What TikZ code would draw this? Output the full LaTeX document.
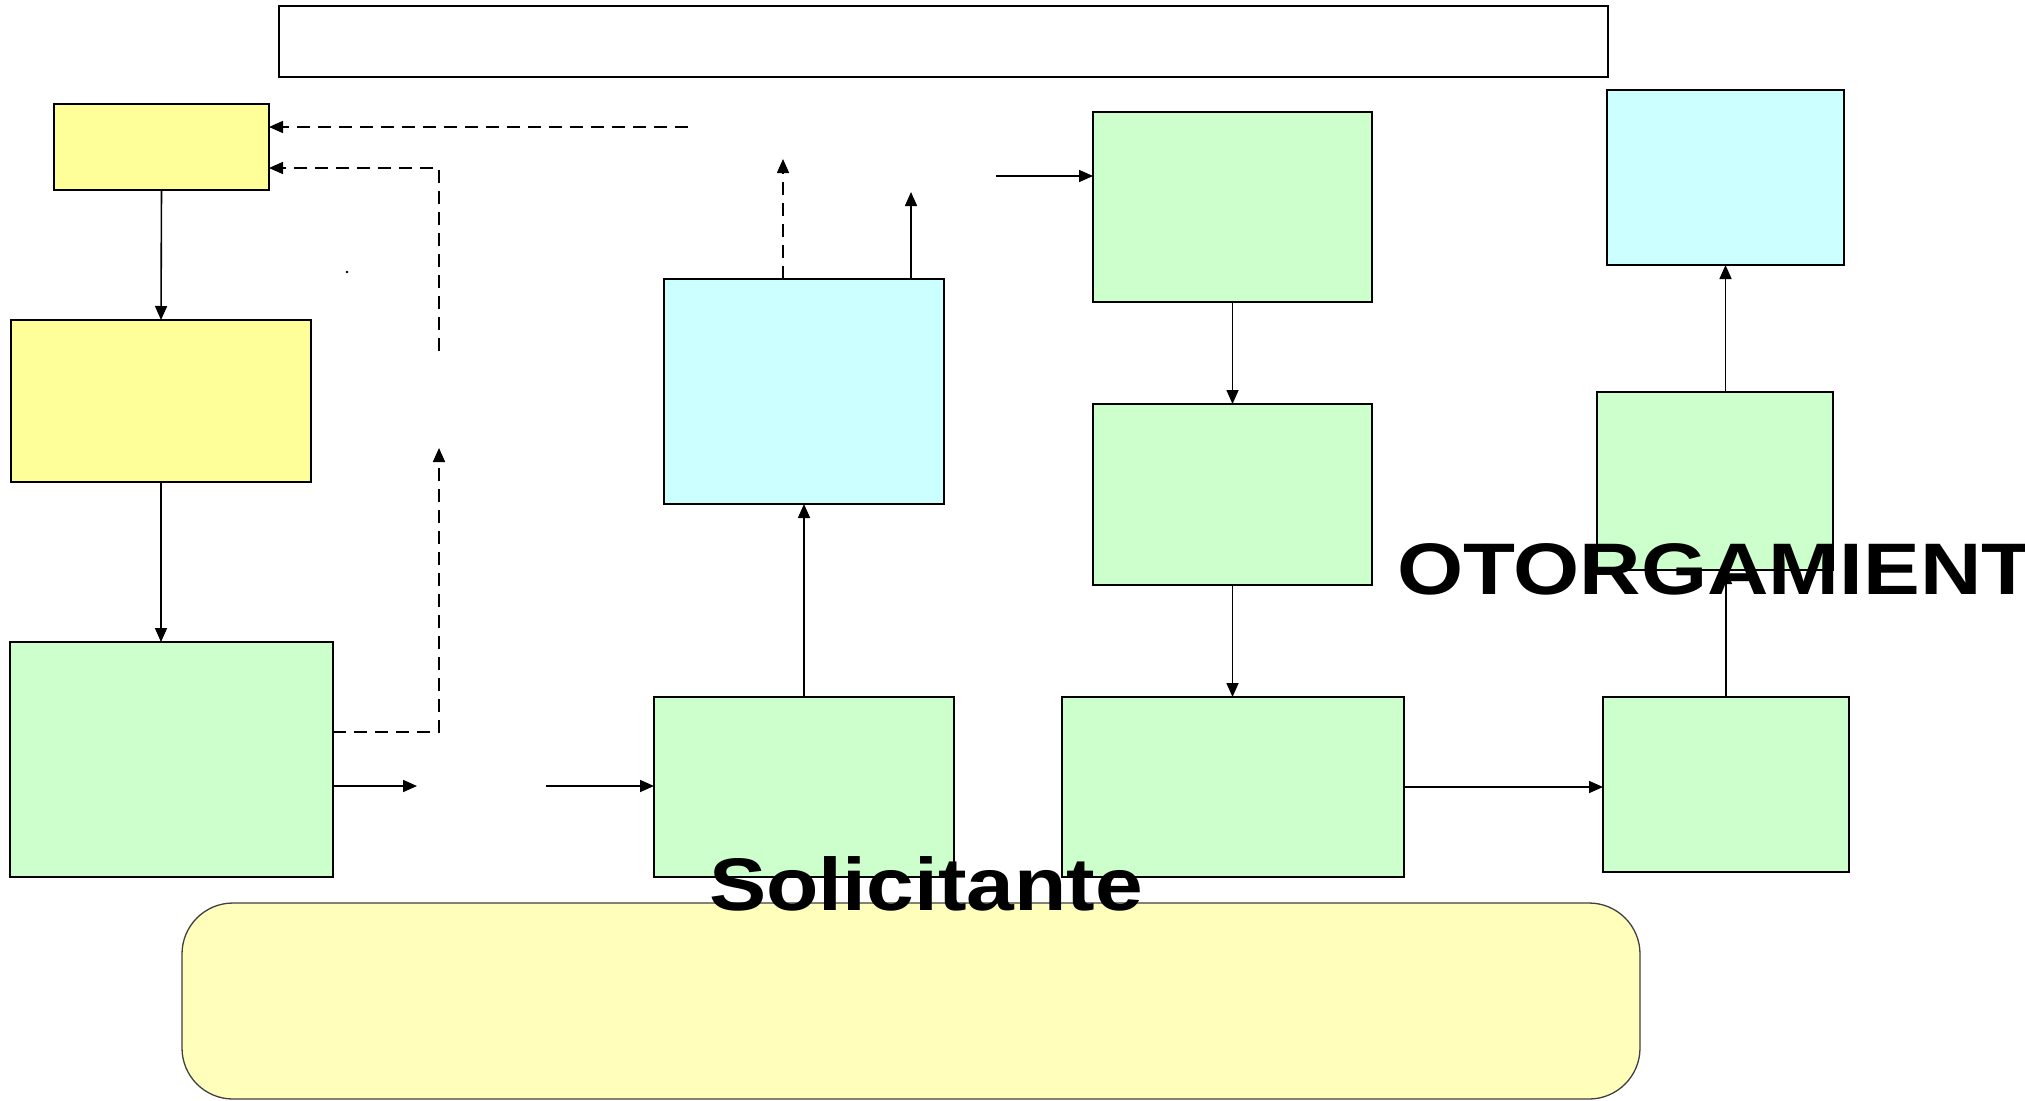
\documentclass[tikz,border=0pt]{standalone}
\usepackage{fontspec}
\setmainfont{Liberation Sans}
\usetikzlibrary{arrows.meta}
\definecolor{amarillo}{HTML}{FFFF99}
\definecolor{verde}{HTML}{CCFFCC}
\definecolor{celeste}{HTML}{CCFFFF}
\definecolor{crema}{HTML}{FFFFBB}
\begin{document}
\begin{tikzpicture}[x=1pt,y=-1pt,
  caja/.style={draw,line width=2.8pt,inner sep=0pt,outer sep=0pt,anchor=north west},
  flecha/.style={line width=1.6pt,-{Triangle[length=14pt,width=12pt]}},
  punteada/.style={flecha,dash pattern=on 13pt off 8pt},
  rotulo/.style={inner sep=0pt,anchor=base west,font=\fontsize{73}{80}\selectfont\bfseries}]
\useasboundingbox (0,0) rectangle (2025,1100);
% marco superior y base redondeada
\node[caja,line width=1.5pt,minimum width=1329pt,minimum height=71pt] (marco) at (279,6) {};
\node[caja,draw=black!75,line width=1.3pt,fill=crema,rounded corners=51pt,minimum width=1458pt,minimum height=196pt] (base) at (182,903) {};
% columna izquierda
\node[caja,fill=amarillo,minimum width=215pt,minimum height=86pt] (b1) at (54,104) {};
\node[caja,fill=amarillo,minimum width=300pt,minimum height=162pt] (b2) at (11,320) {};
\node[caja,fill=verde,minimum width=323pt,minimum height=235pt] (b3) at (10,642) {};
% columna central
\node[caja,fill=celeste,minimum width=280pt,minimum height=225pt] (b4) at (664,279) {};
\node[caja,fill=verde,minimum width=300pt,minimum height=180pt] (b5) at (654,697) {};
\node[caja,fill=verde,minimum width=279pt,minimum height=190pt] (b6) at (1093,112) {};
\node[caja,fill=verde,minimum width=279pt,minimum height=181pt] (b7) at (1093,404) {};
\node[caja,fill=verde,minimum width=342pt,minimum height=180pt] (b8) at (1062,697) {};
% columna derecha
\node[caja,fill=celeste,minimum width=237pt,minimum height=175pt] (b9) at (1607,90) {};
\node[caja,fill=verde,minimum width=236pt,minimum height=178pt] (b10) at (1597,392) {};
\node[caja,fill=verde,minimum width=246pt,minimum height=175pt] (b11) at (1603,697) {};
% extremos libres
\coordinate (r1) at (417,786);
\coordinate (r2) at (546,786);
\coordinate (d1) at (439,732);
\coordinate (d2) at (439,448);
\coordinate (d3) at (439,351);
\coordinate (d4) at (439,168);
\coordinate (d5) at (688,127);
\coordinate (u1) at (783,159);
\coordinate (u2) at (911,192);
\coordinate (u3) at (996,176);
% conectores
\draw[flecha] (b1.south) -- (b2.north);
\draw[flecha] (b2.south) -- (b2.south |- b3.north);
\draw[flecha] (b3.east |- r1) -- (r1);
\draw[flecha] (r2) -- (r2 -| b5.west);
\draw[punteada] (b3.east |- d1) -| (d2);
\draw[punteada] (d3) -- (d4) -- (d4 -| b1.east);
\draw[punteada] (d5) -- (d5 -| b1.east);
\draw[flecha] (b5.north) -- (b4.south);
\draw[punteada] (u1 |- b4.north) -- (u1);
\draw[flecha] (u2 |- b4.north) -- (u2);
\draw[flecha] (u3) -- (u3 -| b6.west);
\draw[flecha] (b6.south) -- (b7.north);
\draw[flecha] (b7.south) -- (b7.south |- b8.north);
\draw[flecha] (b8.east) -- (b8.east -| b11.west);
\draw[flecha] (b11.north) -- (b11.north |- b10.south);
\draw[flecha] (b9.south |- b10.north) -- (b9.south);
\fill (347,272) circle (1.4pt);
% rotulos
\node[rotulo] (sol) at (709,910) {\scalebox{1.175}[1.02]{Solicitante}};
\node[rotulo] (oto) at (1397,594) {\scalebox{1.165}[1]{OTORGAMIENTO}};
\end{tikzpicture}
\end{document}
